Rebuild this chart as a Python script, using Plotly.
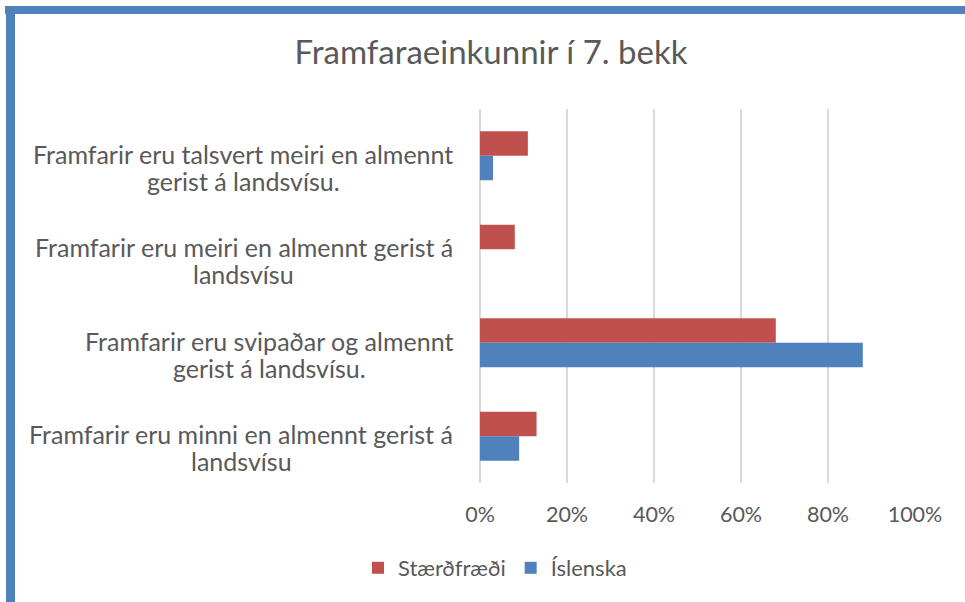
import plotly.graph_objects as go

line1 = [
    "Framfarir eru talsvert meiri en almennt",
    "Framfarir eru meiri en almennt gerist á",
    "Framfarir eru svipaðar og almennt",
    "Framfarir eru minni en almennt gerist á",
]
line2 = [
    "gerist á landsvísu.",
    "landsvísu",
    "gerist á landsvísu.",
    "landsvísu",
]
cat_keys = ["c1", "c2", "c3", "c4"]
staerdfraedi = [0.11, 0.08, 0.68, 0.13]
islenska = [0.03, 0.0, 0.88, 0.09]
tick_vals = [0, 0.2, 0.4, 0.6, 0.8, 1.0]
tick_text = ["0%", "20%", "40%", "60%", "80%", "100%"]

W, H = 965, 602
L, R, T, B = 480, 50, 109, 119
PW, PH = W - L - R, H - T - B

def px_x(px):
    return (px - L) / PW

def px_y(py):
    return 1 - (py - T) / PH

FONT = "Lato"
GREY = "#595959"
label_centers = [243, 244, 269, 241]

fig = go.Figure()
fig.add_trace(go.Bar(y=cat_keys, x=staerdfraedi, orientation="h", name="Stærðfræði",
                     marker=dict(color="#C0504D", line=dict(width=0))))
fig.add_trace(go.Bar(y=cat_keys, x=islenska, orientation="h", name="Íslenska",
                     marker=dict(color="#4F81BD", line=dict(width=0))))

annotations = []
for key, a, b, cx in zip(cat_keys, line1, line2, label_centers):
    annotations.append(dict(
        x=px_x(cx), xref="paper", y=key, yref="y", text=a, showarrow=False,
        xanchor="center", yanchor="middle", yshift=2,
        font=dict(family=FONT, size=25, color=GREY),
    ))
    annotations.append(dict(
        x=px_x(cx), xref="paper", y=key, yref="y", text=b, showarrow=False,
        xanchor="center", yanchor="middle", yshift=-25,
        font=dict(family=FONT, size=25, color=GREY),
    ))

shapes = [
    dict(type="rect", xref="paper", yref="paper", x0=px_x(5), x1=px_x(966),
         y0=px_y(14), y1=px_y(6), fillcolor="#4F81BD", line=dict(width=0), layer="above"),
    dict(type="rect", xref="paper", yref="paper", x0=px_x(6), x1=px_x(15),
         y0=px_y(603), y1=px_y(6), fillcolor="#4F81BD", line=dict(width=0), layer="above"),
]

fig.update_layout(
    width=W, height=H,
    margin=dict(l=L, r=R, t=T, b=B),
    paper_bgcolor="white", plot_bgcolor="white",
    barmode="group", bargap=0.476, bargroupgap=0,
    title=dict(text="Framfaraeinkunnir í 7. bekk", x=491 / W, xanchor="center",
               y=1 - 52 / H, yanchor="middle",
               font=dict(family=FONT, size=33, color=GREY)),
    xaxis=dict(range=[0, 1.0], tickvals=tick_vals, ticktext=tick_text,
               showgrid=True, gridcolor="#D9D9D9", gridwidth=1.5,
               zeroline=True, zerolinecolor="#D9D9D9", zerolinewidth=1.5,
               ticks="outside", ticklen=12, tickcolor="rgba(0,0,0,0)",
               tickfont=dict(family=FONT, size=21.5, color=GREY), fixedrange=True),
    yaxis=dict(categoryorder="array", categoryarray=cat_keys, autorange="reversed",
               showticklabels=False, showgrid=False, zeroline=False, fixedrange=True),
    legend=dict(orientation="h", x=px_x(495), xanchor="center", y=px_y(568), yanchor="middle",
                font=dict(family=FONT, size=22, color=GREY), traceorder="normal"),
    annotations=annotations,
    shapes=shapes,
    showlegend=True,
)

fig.write_html("out.html", config={"displayModeBar": False},
               post_script="document.body.style.margin='0';")
